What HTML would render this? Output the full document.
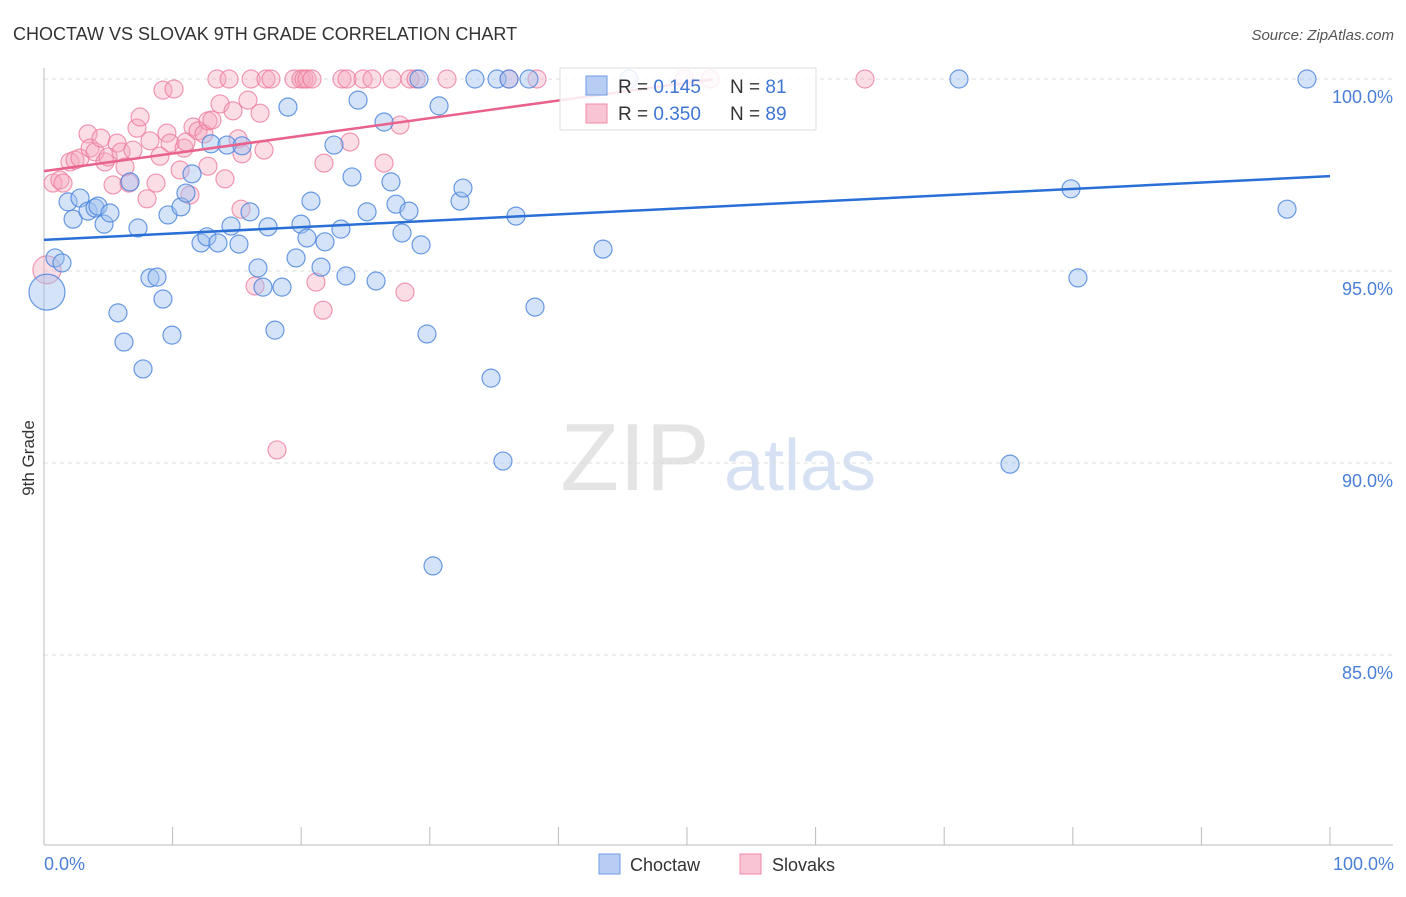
<!DOCTYPE html>
<html><head><meta charset="utf-8"><style>
body{margin:0;background:#fff;font-family:"Liberation Sans",sans-serif;}
svg text{font-family:"Liberation Sans",sans-serif;}
</style></head><body>
<svg id="chart" width="1406" height="892">
<text x="13" y="40" font-size="18" fill="#333">CHOCTAW VS SLOVAK 9TH GRADE CORRELATION CHART</text>
<text x="1394" y="40" font-size="15" fill="#555" text-anchor="end" font-style="italic">Source: ZipAtlas.com</text>
<g>
<text x="635" y="490" font-size="96" fill="#e4e4e4" text-anchor="middle" font-family="Liberation Serif,serif">ZIP</text>
<text x="800" y="490" font-size="72" fill="#d6e2f3" text-anchor="middle">atlas</text>
</g>
<g id="grid"></g>
<g id="axes"></g>
<g id="pts"></g>
<g id="lines"></g>
<text x="34" y="458" font-size="17" fill="#333" text-anchor="middle" transform="rotate(-90 34 458)">9th Grade</text>
<text x="44" y="870" font-size="18" fill="#4a7fd6">0.0%</text>
<text x="1394" y="870" font-size="18" fill="#4a7fd6" text-anchor="end">100.0%</text>
<g>
<rect x="560" y="68" width="256" height="62" fill="#fff" fill-opacity="0.85" stroke="#ddd"/>
<rect x="586" y="76" width="21" height="19" fill="#b7cdf3" stroke="#6f9de6"/>
<rect x="586" y="104" width="21" height="19" fill="#f9c5d4" stroke="#f08aa8"/>
<text x="618" y="93" font-size="19" fill="#333">R = <tspan fill="#3f76d4">0.145</tspan></text>
<text x="730" y="93" font-size="19" fill="#333">N = <tspan fill="#3f76d4">81</tspan></text>
<text x="618" y="120" font-size="19" fill="#333">R = <tspan fill="#3f76d4">0.350</tspan></text>
<text x="730" y="120" font-size="19" fill="#333">N = <tspan fill="#3f76d4">89</tspan></text>
</g>
<g>
<rect x="599" y="854" width="21" height="20" fill="#b7cdf3" stroke="#6f9de6"/>
<text x="630" y="871" font-size="18" fill="#333">Choctaw</text>
<rect x="740" y="854" width="21" height="20" fill="#f9c5d4" stroke="#f08aa8"/>
<text x="772" y="871" font-size="18" fill="#333">Slovaks</text>
</g>
</svg>
<script>
const yTicks=[100,95,90,85];
const xTicks=[0,10,20,30,40,50,60,70,80,90,100];
const blueX=[0.23,0.86,1.40,1.87,2.26,2.80,3.42,3.97,4.20,4.67,5.13,5.75,6.22,6.69,7.31,7.70,8.24,8.79,9.25,9.64,9.95,10.65,11.04,11.51,12.21,12.67,12.99,13.53,14.23,14.54,15.16,15.40,16.02,16.64,17.03,17.42,17.96,18.51,18.97,19.60,19.98,20.45,20.76,21.54,21.85,22.55,23.09,23.48,23.95,24.42,25.12,25.82,26.44,26.98,27.37,27.84,28.38,29.16,29.32,29.78,30.25,30.72,32.35,32.58,33.51,34.76,35.23,35.69,36.16,36.70,37.71,38.18,43.47,45.49,71.15,75.12,79.86,80.40,96.66,98.21];
const blueY=[94.45,95.34,95.21,96.80,96.35,96.90,96.56,96.64,96.69,96.22,96.51,93.91,93.15,97.32,96.12,92.45,94.82,94.84,94.27,96.46,93.33,96.67,97.03,97.53,95.73,95.89,98.31,95.73,98.28,96.17,95.70,98.26,96.54,95.08,94.58,96.15,93.46,94.58,99.27,95.34,96.22,95.86,96.82,95.10,95.76,98.28,96.09,94.87,97.45,99.45,96.54,94.74,98.88,97.32,96.74,95.99,96.56,100,95.68,93.36,87.32,99.30,96.82,97.16,100,92.21,100,90.05,100,96.43,100,94.06,95.57,100,100,89.97,97.14,94.82,96.61,100];
const pinkX=[0.70,0.23,1.24,1.48,2.02,2.41,2.80,3.42,3.58,3.97,4.43,4.74,4.98,5.37,5.68,5.99,6.30,6.61,6.92,7.23,7.47,8.01,8.24,8.71,9.02,9.25,9.56,9.80,10.11,10.58,10.89,11.04,11.35,11.59,11.98,12.44,12.75,13.06,12.75,13.69,14.07,13.45,14.39,14.70,15.09,15.40,15.32,15.86,16.10,16.41,16.80,17.11,17.26,17.65,18.12,19.44,19.98,20.22,20.45,20.84,21.15,21.70,21.77,23.17,23.56,23.79,24.81,25.51,26.44,27.06,27.68,28.07,28.46,28.93,31.34,36.16,38.34,49.8,51.8,63.84];
const pinkY=[97.29,95.03,97.37,97.29,97.84,97.89,97.94,98.57,98.20,98.10,98.46,97.84,97.97,97.24,98.33,98.10,97.71,97.29,98.15,98.72,99.01,96.88,98.39,97.29,97.99,99.71,98.59,98.33,99.74,97.63,98.20,98.36,96.98,98.75,98.65,98.57,98.91,98.93,97.73,99.35,97.40,100,100,99.17,98.44,98.05,96.61,99.45,100,94.61,99.11,98.15,100,100,90.34,100,100,100,100,100,94.71,93.98,97.81,100,100,98.36,100,100,97.81,100,98.80,94.45,100,100,100,100,100,100,100,100];
const blueTrend=[95.81,97.47];
const pinkTrend=[97.60,102.2];
const pinkTrendEnd=52;
const NS='http://www.w3.org/2000/svg';
const xs=v=>44+v*12.86;
const ys=v=>79+(100-v)*38.4;
function mk(tag,attrs,parent){const e=document.createElementNS(NS,tag);for(const k in attrs)e.setAttribute(k,attrs[k]);parent.appendChild(e);return e;}
const grid=document.getElementById('grid'),axes=document.getElementById('axes'),pts=document.getElementById('pts'),lines=document.getElementById('lines');
yTicks.forEach(t=>{
 const l=mk('line',{x1:44,x2:1393,y1:ys(t),y2:ys(t),stroke:'#ddd','stroke-dasharray':'4,4'},grid);
 
 
 const tx=mk('text',{x:1393,y:ys(t)+24,'font-size':18,fill:'#4a7fd6','text-anchor':'end'},grid);
 tx.textContent=t.toFixed(1)+'%';
 
 
});
const ya=mk('line',{x1:44,x2:44,y1:68,y2:845,stroke:'#bbb'},axes);


const xa=mk('line',{x1:44,x2:1393,y1:845,y2:845,stroke:'#bbb'},axes);


xTicks.forEach(t=>{
 const l=mk('line',{x1:xs(t),x2:xs(t),y1:827,y2:845,stroke:'#bbb'},axes);
 
 
});
function dots(X,Y,fill,stroke,name){
 X.forEach((x,i)=>{
  const r=(i===0&&name==='choctaw-point')?18:(i===1&&name==='slovak-point')?14:9;
  const c=mk('circle',{cx:xs(x),cy:ys(Y[i]),r:r,fill:fill,stroke:stroke,'stroke-width':1.2},pts);
  
  
 });
}
dots(pinkX,pinkY,'rgba(245,165,190,0.38)','rgba(236,120,155,0.75)','slovak-point');
dots(blueX,blueY,'rgba(160,192,240,0.45)','rgba(70,130,220,0.8)','choctaw-point');
const bl=mk('line',{x1:xs(0),y1:ys(blueTrend[0]),x2:xs(100),y2:ys(blueTrend[1]),stroke:'#2a6fd6','stroke-width':2.5},lines);


const pyEnd=pinkTrend[0]+(pinkTrend[1]-pinkTrend[0])*pinkTrendEnd/100;
const pl=mk('line',{x1:xs(0),y1:ys(pinkTrend[0]),x2:xs(pinkTrendEnd),y2:ys(pyEnd),stroke:'#e8628c','stroke-width':2.5},lines);


</script>
</body></html>
